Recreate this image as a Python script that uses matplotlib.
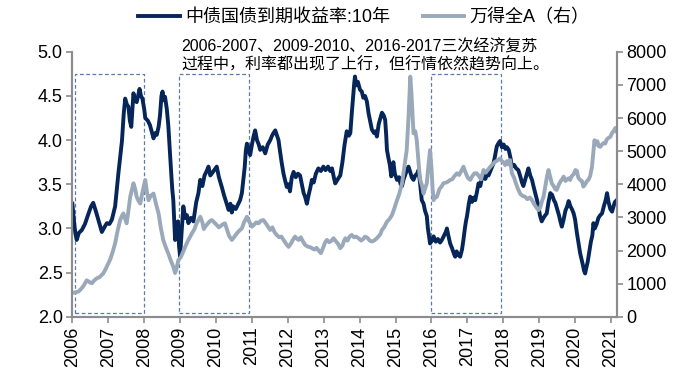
import matplotlib
matplotlib.use("Agg")
import matplotlib.pyplot as plt
from matplotlib.patches import Rectangle

# 中债国债到期收益率:10年 (left axis, %)
bond_t = [
    2006.00, 2006.04, 2006.08, 2006.12, 2006.18, 2006.26, 2006.35, 2006.45, 2006.52, 2006.58,
    2006.65, 2006.72, 2006.82, 2006.90, 2006.96, 2007.03, 2007.10, 2007.19, 2007.28, 2007.33,
    2007.38, 2007.43, 2007.47, 2007.52, 2007.56, 2007.60, 2007.64, 2007.70, 2007.75, 2007.79,
    2007.84, 2007.87, 2007.91, 2007.95, 2008.00, 2008.03, 2008.10, 2008.16, 2008.22, 2008.26,
    2008.31, 2008.35, 2008.40, 2008.44, 2008.48, 2008.51, 2008.55, 2008.58, 2008.63, 2008.67,
    2008.71, 2008.75, 2008.78, 2008.81, 2008.84, 2008.86, 2008.90, 2008.94, 2008.97, 2009.00,
    2009.04, 2009.09, 2009.14, 2009.19, 2009.23, 2009.30, 2009.37, 2009.45, 2009.51, 2009.56,
    2009.62, 2009.68, 2009.74, 2009.79, 2009.84, 2009.88, 2009.95, 2010.02, 2010.08, 2010.16,
    2010.22, 2010.28, 2010.35, 2010.40, 2010.44, 2010.48, 2010.55, 2010.62, 2010.67, 2010.72,
    2010.76, 2010.80, 2010.83, 2010.86, 2010.90, 2010.95, 2011.00, 2011.05, 2011.09, 2011.14,
    2011.19, 2011.23, 2011.30, 2011.37, 2011.44, 2011.51, 2011.56, 2011.60, 2011.65, 2011.70,
    2011.74, 2011.78, 2011.83, 2011.88, 2011.92, 2011.97, 2012.02, 2012.06, 2012.11, 2012.16,
    2012.22, 2012.28, 2012.34, 2012.40, 2012.44, 2012.48, 2012.53, 2012.58, 2012.62, 2012.67,
    2012.72, 2012.78, 2012.85, 2012.92, 2012.99, 2013.05, 2013.12, 2013.18, 2013.23, 2013.28,
    2013.32, 2013.38, 2013.46, 2013.52, 2013.58, 2013.64, 2013.70, 2013.74, 2013.78, 2013.82,
    2013.85, 2013.87, 2013.91, 2013.95, 2014.01, 2014.06, 2014.10, 2014.15, 2014.20, 2014.25,
    2014.30, 2014.34, 2014.40, 2014.44, 2014.48, 2014.53, 2014.58, 2014.62, 2014.67, 2014.71,
    2014.74, 2014.76, 2014.80, 2014.84, 2014.88, 2014.91, 2014.94, 2014.98, 2015.04, 2015.10,
    2015.14, 2015.18, 2015.22, 2015.28, 2015.32, 2015.36, 2015.40, 2015.45, 2015.50, 2015.55,
    2015.60, 2015.64, 2015.68, 2015.73, 2015.78, 2015.82, 2015.87, 2015.90, 2015.93, 2015.96,
    2016.01, 2016.06, 2016.12, 2016.18, 2016.24, 2016.29, 2016.35, 2016.40, 2016.43, 2016.47,
    2016.52, 2016.57, 2016.62, 2016.66, 2016.70, 2016.75, 2016.80, 2016.85, 2016.89, 2016.93,
    2016.96, 2016.99, 2017.04, 2017.08, 2017.13, 2017.18, 2017.22, 2017.27, 2017.31, 2017.36,
    2017.41, 2017.45, 2017.50, 2017.55, 2017.59, 2017.64, 2017.69, 2017.73, 2017.77, 2017.82,
    2017.86, 2017.91, 2017.96, 2018.01, 2018.06, 2018.10, 2018.15, 2018.20, 2018.24, 2018.30,
    2018.36, 2018.42, 2018.48, 2018.52, 2018.56, 2018.61, 2018.66, 2018.70, 2018.75, 2018.80,
    2018.84, 2018.89, 2018.94, 2018.98, 2019.02, 2019.07, 2019.12, 2019.17, 2019.21, 2019.26,
    2019.31, 2019.36, 2019.41, 2019.45, 2019.50, 2019.55, 2019.59, 2019.63, 2019.68, 2019.73,
    2019.78, 2019.82, 2019.87, 2019.91, 2019.96, 2020.00, 2020.05, 2020.09, 2020.14, 2020.18,
    2020.22, 2020.25, 2020.28, 2020.31, 2020.35, 2020.40, 2020.44, 2020.48, 2020.51, 2020.55,
    2020.60, 2020.65, 2020.70, 2020.75, 2020.80, 2020.85, 2020.89, 2020.93, 2020.98, 2021.03,
    2021.07, 2021.11, 2021.16,
]
bond_v = [
    3.28, 3.10, 2.95, 2.87, 2.95, 2.98, 3.05, 3.17, 3.25, 3.29,
    3.20, 3.10, 2.96, 3.02, 3.06, 3.05, 3.10, 3.25, 3.62, 3.80,
    3.99, 4.30, 4.47, 4.40, 4.38, 4.22, 4.15, 4.53, 4.45, 4.43,
    4.52, 4.58, 4.50, 4.47, 4.35, 4.25, 4.22, 4.17, 4.08, 4.02,
    4.08, 4.06, 4.15, 4.28, 4.50, 4.55, 4.45, 4.49, 4.35, 4.17,
    3.90, 3.64, 3.45, 3.32, 3.05, 2.87, 2.95, 3.08, 2.80, 2.68,
    2.95, 3.25, 3.12, 3.15, 3.06, 3.12, 3.08, 3.30, 3.40, 3.55,
    3.48, 3.60, 3.65, 3.70, 3.60, 3.62, 3.66, 3.70, 3.58, 3.47,
    3.38, 3.30, 3.21, 3.28, 3.18, 3.25, 3.22, 3.28, 3.32, 3.40,
    3.55, 3.70, 3.88, 3.96, 3.90, 3.83, 3.95, 4.05, 4.11, 4.00,
    3.95, 3.89, 3.92, 3.85, 3.95, 4.00, 4.05, 4.08, 4.11, 4.05,
    4.00, 3.88, 3.74, 3.62, 3.55, 3.47, 3.50, 3.42, 3.58, 3.64,
    3.58, 3.62, 3.60, 3.48, 3.40, 3.36, 3.28, 3.38, 3.45, 3.55,
    3.52, 3.62, 3.68, 3.65, 3.70, 3.66, 3.70, 3.65, 3.68, 3.58,
    3.51, 3.55, 3.60, 3.75, 3.95, 4.10, 4.05, 4.08, 4.30, 4.50,
    4.65, 4.72, 4.62, 4.66, 4.57, 4.55, 4.48, 4.50, 4.44, 4.30,
    4.20, 4.12, 4.08, 4.10, 4.04, 4.18, 4.25, 4.31, 4.28, 4.23,
    4.05, 3.89, 3.80, 3.72, 3.59, 3.68, 3.75, 3.62, 3.55, 3.58,
    3.50, 3.48, 3.55, 3.62, 3.66, 3.70, 3.65, 3.58, 3.55, 3.60,
    3.62, 3.66, 3.52, 3.32, 3.28, 3.20, 3.14, 3.00, 2.92, 2.83,
    2.86, 2.91, 2.85, 2.88, 2.84, 2.87, 2.92, 2.96, 3.00, 2.92,
    2.83, 2.78, 2.72, 2.68, 2.74, 2.70, 2.68, 2.76, 2.87, 3.00,
    3.08, 3.14, 3.28, 3.36, 3.30, 3.35, 3.32, 3.42, 3.51, 3.48,
    3.58, 3.63, 3.56, 3.62, 3.60, 3.65, 3.70, 3.74, 3.82, 3.93,
    3.96, 3.99, 3.92, 3.95, 3.90, 3.92, 3.89, 3.80, 3.70, 3.72,
    3.68, 3.66, 3.58, 3.52, 3.48, 3.55, 3.62, 3.68, 3.60, 3.55,
    3.48, 3.40, 3.32, 3.25, 3.15, 3.08, 3.12, 3.15, 3.17, 3.30,
    3.40, 3.38, 3.32, 3.29, 3.22, 3.15, 3.08, 3.02, 3.10, 3.20,
    3.25, 3.31, 3.25, 3.22, 3.17, 3.10, 2.95, 2.85, 2.72, 2.65,
    2.58, 2.52, 2.49, 2.55, 2.62, 2.75, 2.85, 2.92, 3.06, 3.00,
    3.05, 3.12, 3.15, 3.17, 3.25, 3.32, 3.40, 3.30, 3.22, 3.19,
    3.25, 3.30, 3.32,
]

# 万得全A (right axis)
winda_t = [
    2006.00, 2006.08, 2006.17, 2006.25, 2006.32, 2006.40, 2006.47, 2006.54, 2006.61, 2006.68,
    2006.76, 2006.86, 2006.93, 2007.00, 2007.06, 2007.12, 2007.19, 2007.26, 2007.33, 2007.38,
    2007.42, 2007.47, 2007.51, 2007.56, 2007.61, 2007.66, 2007.70, 2007.75, 2007.79, 2007.84,
    2007.89, 2007.94, 2007.99, 2008.03, 2008.07, 2008.12, 2008.18, 2008.26, 2008.33, 2008.40,
    2008.46, 2008.53, 2008.60, 2008.67, 2008.74, 2008.81, 2008.86, 2008.90, 2008.95, 2009.02,
    2009.08, 2009.14, 2009.22, 2009.28, 2009.33, 2009.40, 2009.45, 2009.51, 2009.56, 2009.62,
    2009.66, 2009.70, 2009.76, 2009.82, 2009.88, 2009.95, 2010.02, 2010.08, 2010.14, 2010.20,
    2010.25, 2010.30, 2010.36, 2010.44, 2010.50, 2010.58, 2010.65, 2010.72, 2010.78, 2010.86,
    2010.92, 2011.00, 2011.06, 2011.12, 2011.18, 2011.25, 2011.32, 2011.40, 2011.46, 2011.51,
    2011.57, 2011.63, 2011.69, 2011.76, 2011.82, 2011.88, 2011.94, 2012.02, 2012.08, 2012.14,
    2012.20, 2012.26, 2012.30, 2012.36, 2012.42, 2012.48, 2012.55, 2012.62, 2012.67, 2012.74,
    2012.80, 2012.85, 2012.92, 2012.97, 2013.04, 2013.09, 2013.15, 2013.22, 2013.27, 2013.34,
    2013.40, 2013.46, 2013.52, 2013.56, 2013.60, 2013.66, 2013.72, 2013.78, 2013.84, 2013.90,
    2013.97, 2014.04, 2014.10, 2014.15, 2014.22, 2014.28, 2014.34, 2014.40, 2014.46, 2014.52,
    2014.58, 2014.62, 2014.68, 2014.76, 2014.83, 2014.90, 2014.96, 2015.04, 2015.10, 2015.18,
    2015.24, 2015.31, 2015.36, 2015.41, 2015.44, 2015.47, 2015.50, 2015.55, 2015.59, 2015.63,
    2015.66, 2015.69, 2015.74, 2015.78, 2015.83, 2015.87, 2015.91, 2015.96, 2016.00, 2016.03,
    2016.06, 2016.10, 2016.15, 2016.22, 2016.29, 2016.33, 2016.40, 2016.46, 2016.52, 2016.58,
    2016.64, 2016.71, 2016.77, 2016.83, 2016.89, 2016.95, 2017.01, 2017.08, 2017.14, 2017.20,
    2017.26, 2017.32, 2017.38, 2017.45, 2017.51, 2017.58, 2017.64, 2017.70, 2017.77, 2017.84,
    2017.91, 2017.96, 2018.02, 2018.05, 2018.10, 2018.14, 2018.19, 2018.24, 2018.30, 2018.36,
    2018.42, 2018.48, 2018.54, 2018.61, 2018.67, 2018.74, 2018.80, 2018.86, 2018.92, 2018.98,
    2019.03, 2019.08, 2019.12, 2019.18, 2019.22, 2019.26, 2019.31, 2019.35, 2019.40, 2019.45,
    2019.49, 2019.55, 2019.60, 2019.64, 2019.68, 2019.73, 2019.78, 2019.82, 2019.86, 2019.91,
    2019.96, 2020.01, 2020.05, 2020.09, 2020.14, 2020.19, 2020.23, 2020.28, 2020.33, 2020.37,
    2020.42, 2020.47, 2020.51, 2020.54, 2020.58, 2020.62, 2020.66, 2020.70, 2020.75, 2020.80,
    2020.84, 2020.88, 2020.93, 2020.98, 2021.03, 2021.07, 2021.12, 2021.16,
]
winda_v = [
    720, 740, 760, 850, 950, 1100, 1050, 1010, 1100, 1160,
    1200, 1310, 1450, 1610, 1750, 1950, 2220, 2600, 2920, 3050,
    3120, 2950, 2820, 3200, 3620, 3850, 4030, 3850, 3620, 3500,
    3420, 3700, 3950, 4130, 3800, 3520, 3650, 3720, 3400, 3120,
    2700, 2320, 2100, 1910, 1700, 1510, 1320, 1450, 1710, 1800,
    1950, 2110, 2300, 2420, 2520, 2650, 2800, 2920, 3020, 2850,
    2650, 2720, 2800, 2880, 2920, 2850, 2770, 2700, 2750, 2800,
    2820, 2650, 2450, 2320, 2400, 2520, 2600, 2670, 2850, 3020,
    2880, 2720, 2780, 2850, 2820, 2900, 2920, 2800, 2700, 2620,
    2700, 2550, 2470, 2400, 2420, 2320, 2220, 2110, 2200, 2320,
    2420, 2350, 2320, 2400, 2280, 2170, 2120, 2100, 2070, 2030,
    2080, 2010, 1920, 2050, 2250, 2320, 2250, 2300, 2370, 2280,
    2200, 2070, 2150, 2280, 2370, 2300, 2420, 2470, 2400, 2420,
    2370, 2300, 2350, 2420, 2380, 2300, 2270, 2300, 2350, 2420,
    2500, 2620, 2700, 2870, 2950, 3070, 3250, 3520, 3700, 4030,
    4500, 5030, 6000, 7250, 6800, 6200, 5540, 5600, 5330, 4800,
    4400, 4130, 3950, 3720, 3900, 4030, 4500, 5030, 4500, 3900,
    3520, 3600, 3620, 3850, 3950, 4030, 4050, 4080, 4130, 4150,
    4250, 4330, 4280, 4400, 4530, 4350, 4200, 4130, 4250, 4330,
    4330, 4250, 4150, 4430, 4350, 4450, 4530, 4600, 4680, 4720,
    4780, 4700, 4650, 4580, 4700, 4600, 4730, 4330, 4200, 4000,
    3830, 3700, 3650, 3620, 3550, 3600, 3520, 3400, 3300, 3220,
    3300, 3500, 3620, 4000, 4250, 4430, 4200, 4030, 3950, 3850,
    3830, 4000, 4100, 4150, 4230, 4100, 4150, 4180, 4130, 4250,
    4300, 4430, 4400, 4200, 4130, 4100, 3930, 4000, 4100, 4130,
    4250, 4530, 5000, 5330, 5200, 5300, 5150, 5130, 5200, 5250,
    5230, 5350, 5400, 5430, 5550, 5600, 5700, 5600,
]

years = list(range(2006, 2022))
left_ticks = [2.0, 2.5, 3.0, 3.5, 4.0, 4.5, 5.0]
right_ticks = [0, 1000, 2000, 3000, 4000, 5000, 6000, 7000, 8000]
# recovery windows marked with dashed boxes (start, end)
boxes = [(2006.08, 2008.00), (2008.97, 2010.92), (2015.98, 2017.93)]

note_lines = ["2006-2007、2009-2010、2016-2017三次经济复苏",
              "过程中，利率都出现了上行，但行情依然趋势向上。"]

plt.rcParams["font.family"] = ["Liberation Sans", "Noto Sans CJK SC", "DejaVu Sans"]

DARK = "#062558"
LIGHT = "#9aa9b9"
SPINE = "#8c8c8c"

fig = plt.figure(figsize=(6.83, 3.78), dpi=100)
ax = fig.add_axes([0.106, 0.162, 0.797, 0.701])
ax2 = ax.twinx()

l1, = ax.plot(bond_t, bond_v, color=DARK, lw=2.8, label="中债国债到期收益率:10年")
l2, = ax2.plot(winda_t, winda_v, color=LIGHT, lw=2.8, label="万得全A（右）")

for x0, x1 in boxes:
    ax.add_patch(Rectangle((x0, 2.04), x1 - x0, 4.75 - 2.04, fill=False,
                           edgecolor="#5a7cab", lw=0.9, ls=(0, (3, 2)), zorder=1))

ax.set_xlim(2006.0, 2021.16)
ax.set_ylim(2.0, 5.0)
ax2.set_ylim(0, 8000)
ax.set_xticks(years)
ax.set_xticklabels([str(y) for y in years], rotation=90, fontsize=13)
ax.set_yticks(left_ticks)
ax.set_yticklabels([f"{v:.1f}" for v in left_ticks], fontsize=13)
ax2.set_yticks(right_ticks)
ax2.set_yticklabels([str(v) for v in right_ticks], fontsize=13)

for a in (ax, ax2):
    a.spines["top"].set_visible(False)
    for s in ("left", "right", "bottom"):
        a.spines[s].set_color(SPINE)
        a.spines[s].set_linewidth(1.5)
    a.tick_params(colors=SPINE, labelcolor="black", length=4, width=1.2, pad=3)

fig.legend(handles=[l1, l2], loc="upper center", bbox_to_anchor=(0.533, 1.02),
           ncol=2, frameon=False, fontsize=13, handlelength=2.3,
           columnspacing=1.8, handletextpad=0.3)

fig.text(0.265, 0.876, note_lines[0], fontsize=11.5, va="center", ha="left")
fig.text(0.265, 0.828, note_lines[1], fontsize=11.5, va="center", ha="left")

fig.savefig("out.png", dpi=100)
